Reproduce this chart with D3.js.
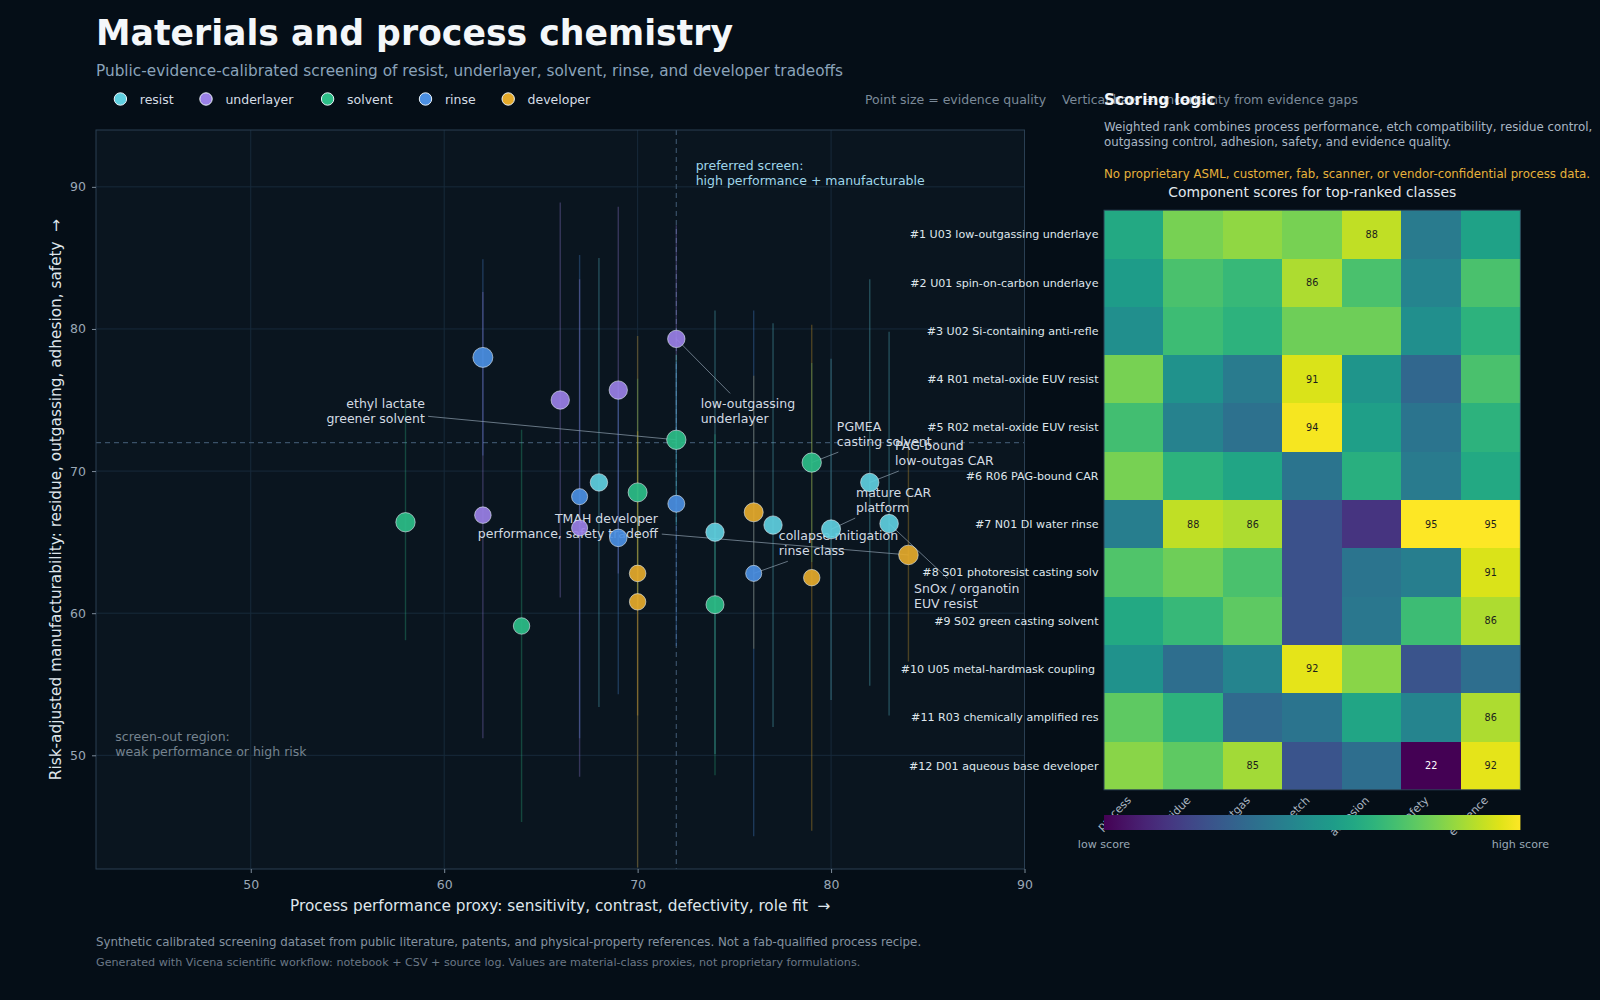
<!DOCTYPE html>
<html><head><meta charset="utf-8">
<script src="https://cdn.jsdelivr.net/npm/d3@7"></script>
<style>
body{margin:0;background:#050e17;}
text{font-family:"DejaVu Sans",sans-serif;}
</style>
</head><body><svg id="c" width="1600" height="1000"></svg>
<script>
// ---------------- DATA ----------------
const categories = ["resist","underlayer","solvent","rinse","developer"];
const categoryColors = ["#5fcfe0","#9a80e6","#2dbe88","#4b8fe2","#e5aa2b"];

const pointCategory = ["rinse","underlayer","underlayer","underlayer","solvent","solvent","underlayer","solvent","rinse","resist",
  "underlayer","rinse","solvent","developer","developer","rinse","resist","solvent","developer","resist",
  "rinse","solvent","developer","resist","resist","resist","developer"];
const pointPerformance = [62,66,69,72,72,58,62,64,67,68, 67,69,70,70,70,72,74,74,76,77, 76,79,79,80,82,83,84];
const pointManufacturability = [78.0,75.0,75.7,79.3,72.2,66.4,66.9,59.1,68.2,69.2, 66.0,65.3,68.5,62.8,60.8,67.7,65.7,60.6,67.1,66.2, 62.8,70.6,62.5,65.9,69.2,66.3,64.1];
const pointUncertainty = [6.9,13.9,12.9,8.0,6.0,8.3,15.7,13.8,17.0,15.8, 17.5,11.0,8.0,10.0,18.7,10.0,15.6,12.0,9.6,14.2, 18.5,7.0,17.8,12.0,14.3,13.5,7.5];
const pointEvidence = [96,81,81,73,90,90,66,65,62,73, 62,74,87,66,65,69,81,78,87,81, 62,90,65,87,81,83,92];

const xDomain = [42,90];
const yDomain = [42,94];
const xTicks = [50,60,70,80,90];
const yTicks = [50,60,70,80,90];
const preferredPerformance = 72;
const preferredManufacturability = 72;

const annotationLines = [["ethyl lactate","greener solvent"],["low-outgassing","underlayer"],["PGMEA","casting solvent"],
  ["PAG-bound","low-outgas CAR"],["mature CAR","platform"],["collapse-mitigation","rinse class"],
  ["SnOx / organotin","EUV resist"],["TMAH developer","performance, safety tradeoff"]];
const annotationTarget = [4,3,21,24,23,20,25,26];
const annotationX = [59.0,73.26,80.3,83.31,81.29,77.3,84.29,71.05];
const annotationY = [74.2,74.2,72.6,71.27,67.96,64.92,61.19,66.12];
const annotationAnchor = ["end","start","start","start","start","start","start","end"];

const heatRows = ["#1 U03 low-outgassing underlaye","#2 U01 spin-on-carbon underlaye","#3 U02 Si-containing anti-refle",
  "#4 R01 metal-oxide EUV resist","#5 R02 metal-oxide EUV resist","#6 R06 PAG-bound CAR","#7 N01 DI water rinse",
  "#8 S01 photoresist casting solv","#9 S02 green casting solvent","#10 U05 metal-hardmask coupling ",
  "#11 R03 chemically amplified res","#12 D01 aqueous base developer"];
const heatCols = ["process","residue","outgas","etch","adhesion","safety","evidence"];
const heatValues = [
  [66,80,83,80,88,52,64],
  [62,74,71,86,74,55,74],
  [58,72,69,79,79,58,69],
  [80,59,52,91,60,46,74],
  [73,54,49,94,63,50,69],
  [80,69,65,50,68,52,66],
  [53,88,86,40,33,95,95],
  [75,79,74,40,50,53,91],
  [66,71,77,40,51,72,86],
  [59,48,55,92,82,41,48],
  [77,69,47,50,65,55,86],
  [82,77,85,41,48,22,92]
];

// ---------------- CHART ----------------
const svg = d3.select("#c");
const FONT = '"DejaVu Sans",sans-serif';
svg.append("rect").attr("width",1600).attr("height",1000).attr("fill","#050e17");

const plot = {left:96,right:1024.5,top:130,bottom:869};
const x = d3.scaleLinear().domain(xDomain).range([plot.left,plot.right]);
const y = d3.scaleLinear().domain(yDomain).range([plot.bottom,plot.top]);
const rScale = d3.scaleSqrt().domain([0,100]).range([0,10.2]);
const color = d3.scaleOrdinal().domain(categories).range(categoryColors);

// title
svg.append("text").attr("x",96).attr("y",45).attr("font-size",34.7).attr("font-weight","bold").attr("fill","#f4f7fa").text("Materials and process chemistry");
svg.append("text").attr("x",96).attr("y",75.5).attr("font-size",15.3).attr("fill","#8aa3ba").text("Public-evidence-calibrated screening of resist, underlayer, solvent, rinse, and developer tradeoffs");

// legend
const legendX = [120.4,206,327.6,425.5,508.2];
const lg = svg.append("g");
categories.forEach((c,i)=>{
  lg.append("circle").attr("cx",legendX[i]).attr("cy",99).attr("r",6.2).attr("fill",color(c)).attr("stroke","#eaf2f8").attr("stroke-width",1);
  lg.append("text").attr("x",legendX[i]+19.4).attr("y",103.5).attr("font-size",12.5).attr("fill","#d5dde5").text(c);
});
svg.append("text").attr("x",865).attr("y",103.5).attr("font-size",12.5).attr("fill","#7b8a99").style("white-space","pre")
  .text("Point size = evidence quality    Vertical bars = uncertainty from evidence gaps");

// plot background
svg.append("rect").attr("x",plot.left).attr("y",plot.top).attr("width",plot.right-plot.left).attr("height",plot.bottom-plot.top).attr("fill","#0a151f");
// grid
const grid = svg.append("g");
grid.selectAll(".vg").data(xTicks).join("line").attr("x1",d=>x(d)).attr("x2",d=>x(d)).attr("y1",plot.top).attr("y2",plot.bottom).attr("stroke","#172a3b").attr("stroke-width",1);
grid.selectAll(".hg").data(yTicks).join("line").attr("y1",d=>y(d)).attr("y2",d=>y(d)).attr("x1",plot.left).attr("x2",plot.right).attr("stroke","#172a3b").attr("stroke-width",1);

// clip
svg.append("clipPath").attr("id","pc").append("rect").attr("x",plot.left).attr("y",plot.top).attr("width",plot.right-plot.left).attr("height",plot.bottom-plot.top);
const pg = svg.append("g").attr("clip-path","url(#pc)");

// dashed reference lines
pg.append("line").attr("x1",x(preferredPerformance)).attr("x2",x(preferredPerformance)).attr("y1",plot.top).attr("y2",plot.bottom)
  .attr("stroke","#3a5168").attr("stroke-width",1.2).attr("stroke-dasharray","5,4");
pg.append("line").attr("y1",y(preferredManufacturability)).attr("y2",y(preferredManufacturability)).attr("x1",plot.left).attr("x2",plot.right)
  .attr("stroke","#3a5168").attr("stroke-width",1.2).attr("stroke-dasharray","5,4");

const pts = pointPerformance.map((p,i)=>({cat:pointCategory[i],px:p,py:pointManufacturability[i],err:pointUncertainty[i],ev:pointEvidence[i]}));

// error bars
pg.selectAll(".eb").data(pts).join("line").attr("x1",d=>x(d.px)).attr("x2",d=>x(d.px))
  .attr("y1",d=>y(d.py-d.err)).attr("y2",d=>y(d.py+d.err))
  .attr("stroke",d=>color(d.cat)).attr("stroke-opacity",0.3).attr("stroke-width",1.4);

// annotation texts
const annG = svg.append("g");
const annLinesG = annG.append("g");
const annTexts = [];
annotationLines.forEach((lines,i)=>{
  const t = annG.append("text").attr("font-size",12.5).attr("fill","#d3dbe3").attr("text-anchor",annotationAnchor[i]);
  const cy = y(annotationY[i]);
  lines.forEach((l,j)=>{
    t.append("tspan").attr("x",x(annotationX[i])).attr("y",cy-3+j*15).text(l);
  });
  annTexts.push(t);
});
annTexts.forEach((t,i)=>{
  const b = t.node().getBBox();
  const pad = 3;
  const cx = b.x+b.width/2, cy = b.y+b.height/2;
  const hw = b.width/2+pad, hh = b.height/2+pad;
  const p = pts[annotationTarget[i]];
  const px = x(p.px), py = y(p.py);
  const dx = px-cx, dy = py-cy;
  const tt = Math.min(dx!==0?Math.abs(hw/dx):Infinity, dy!==0?Math.abs(hh/dy):Infinity);
  annLinesG.append("line").attr("x1",px).attr("y1",py).attr("x2",cx+tt*dx).attr("y2",cy+tt*dy)
    .attr("stroke","#8c9cac").attr("stroke-opacity",0.8).attr("stroke-width",0.9);
});

// points
const ptsG = svg.append("g");
ptsG.selectAll("circle").data(pts).join("circle").attr("cx",d=>x(d.px)).attr("cy",d=>y(d.py)).attr("r",d=>rScale(d.ev))
  .attr("fill",d=>color(d.cat)).attr("fill-opacity",0.92).attr("stroke","#e3ecf4").attr("stroke-opacity",0.6).attr("stroke-width",1);
annG.raise();
annLinesG.lower();
ptsG.raise();
annG.selectAll("text").raise();

// region notes
const pref = svg.append("text").attr("font-size",12.5).attr("fill","#9fd5ea");
["preferred screen:","high performance + manufacturable"].forEach((l,j)=>pref.append("tspan").attr("x",x(73)).attr("y",y(91)-3+j*15.3).text(l));
const so = svg.append("text").attr("font-size",12.5).attr("fill","#75838f");
["screen-out region:","weak performance or high risk"].forEach((l,j)=>so.append("tspan").attr("x",x(43)).attr("y",y(50.8)-3+j*15.3).text(l));

// border
svg.append("rect").attr("x",plot.left).attr("y",plot.top).attr("width",plot.right-plot.left).attr("height",plot.bottom-plot.top)
  .attr("fill","none").attr("stroke","#2a3f53").attr("stroke-width",1);

// axes
const xa = svg.append("g").attr("transform",`translate(0,${plot.bottom})`).call(d3.axisBottom(x).tickValues(xTicks).tickSize(4).tickPadding(7));
const ya = svg.append("g").attr("transform",`translate(${plot.left},0)`).call(d3.axisLeft(y).tickValues(yTicks).tickSize(4).tickPadding(6));
[xa,ya].forEach(a=>{
  a.select(".domain").remove();
  a.selectAll(".tick line").attr("stroke","#7d8b99");
  a.selectAll(".tick text").attr("fill","#9aa8b6").attr("font-size",12.5).attr("font-family",FONT);
});
svg.append("text").attr("x",(plot.left+plot.right)/2).attr("y",910.5).attr("text-anchor","middle").attr("font-size",15.3).attr("fill","#dfe6ec")
  .style("white-space","pre").text("Process performance proxy: sensitivity, contrast, defectivity, role fit  \u2192");
svg.append("text").attr("transform",`translate(61.4,${(plot.top+plot.bottom)/2}) rotate(-90)`).attr("text-anchor","middle").attr("font-size",15.3).attr("fill","#dfe6ec")
  .style("white-space","pre").text("Risk-adjusted manufacturability: residue, outgassing, adhesion, safety  \u2192");

// footer
svg.append("text").attr("x",96).attr("y",945.5).attr("font-size",11.85).attr("fill","#8492a0")
  .text("Synthetic calibrated screening dataset from public literature, patents, and physical-property references. Not a fab-qualified process recipe.");
svg.append("text").attr("x",96).attr("y",965.5).attr("font-size",11.15).attr("fill","#6b7886")
  .text("Generated with Vicena scientific workflow: notebook + CSV + source log. Values are material-class proxies, not proprietary formulations.");

// ---------------- HEATMAP PANEL ----------------
svg.append("text").attr("x",1104).attr("y",104.5).attr("font-size",15.3).attr("font-weight","bold").attr("fill","#f2f5f8").text("Scoring logic");
const sl = svg.append("text").attr("font-size",11.8).attr("fill","#a9b7c5");
["Weighted rank combines process performance, etch compatibility, residue control,","outgassing control, adhesion, safety, and evidence quality."]
  .forEach((l,j)=>sl.append("tspan").attr("x",1104).attr("y",130.7+j*15.3).text(l));
svg.append("text").attr("x",1104).attr("y",177.7).attr("font-size",11.8).attr("fill","#e7b23b")
  .text("No proprietary ASML, customer, fab, scanner, or vendor-confidential process data.");

const hx = d3.scaleBand().domain(heatCols).range([1104,1520.4]);
const hy = d3.scaleBand().domain(heatRows).range([210.2,789.8]);
const allV = heatValues.flat();
const hcolor = d3.scaleSequential(d3.interpolateViridis).domain(d3.extent(allV));

svg.append("text").attr("x",(1104+1520.4)/2).attr("y",196.8).attr("text-anchor","middle").attr("font-size",13.9).attr("fill","#e2e8ee")
  .text("Component scores for top-ranked classes");

const cells = [];
heatRows.forEach((rw,i)=>heatCols.forEach((cl,j)=>cells.push({rw,cl,v:heatValues[i][j]})));
const hg = svg.append("g");
hg.selectAll("rect").data(cells).join("rect").attr("x",d=>hx(d.cl)).attr("y",d=>hy(d.rw))
  .attr("width",hx.bandwidth()+0.5).attr("height",hy.bandwidth()+0.5).attr("fill",d=>hcolor(d.v)).attr("shape-rendering","crispEdges");
hg.selectAll("text").data(cells.filter(d=>d.v>=85||d.v<=25)).join("text")
  .attr("x",d=>hx(d.cl)+hx.bandwidth()/2).attr("y",d=>hy(d.rw)+hy.bandwidth()/2).attr("dy","0.35em")
  .attr("text-anchor","middle").attr("font-size",9.7).attr("fill",d=>d.v>=60?"#1c1c1c":"#ffffff").text(d=>d.v);
svg.append("rect").attr("x",1104).attr("y",210.2).attr("width",416.4).attr("height",579.6).attr("fill","none").attr("stroke","#2b4256").attr("stroke-width",1);

svg.append("g").selectAll("text").data(heatRows).join("text")
  .attr("x",1098.5).attr("y",d=>hy(d)+hy.bandwidth()/2).attr("dy","0.35em").attr("text-anchor","end")
  .attr("font-size",11.1).attr("fill","#dfe6ec").style("white-space","pre").text(d=>d);

svg.append("g").selectAll("text").data(heatCols).join("text")
  .attr("transform",d=>`translate(${hx(d)+hx.bandwidth()/2-1.8},801) rotate(-45)`).attr("text-anchor","end")
  .attr("font-size",11.1).attr("fill","#aab5c0").text(d=>d);

// colorbar
const grad = svg.append("defs").append("linearGradient").attr("id","vir").attr("x1","0%").attr("x2","100%");
d3.range(0,1.0001,0.05).forEach(t=>grad.append("stop").attr("offset",(t*100)+"%").attr("stop-color",d3.interpolateViridis(t)));
svg.append("rect").attr("x",1104).attr("y",815).attr("width",416.4).attr("height",15).attr("fill","url(#vir)");
svg.append("text").attr("x",1104).attr("y",848).attr("text-anchor","middle").attr("font-size",11.1).attr("fill","#9aa8b6").text("low score");
svg.append("text").attr("x",1520.4).attr("y",848).attr("text-anchor","middle").attr("font-size",11.1).attr("fill","#9aa8b6").text("high score");
</script>
</body></html>
